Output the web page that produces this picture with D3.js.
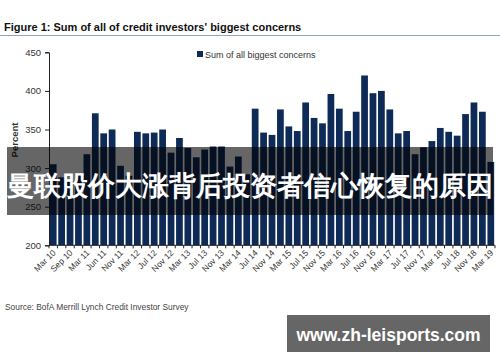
<!DOCTYPE html>
<html>
<head>
<meta charset="utf-8">
<script src="https://cdn.jsdelivr.net/npm/d3@7.9.0/dist/d3.min.js"></script>
<style>
  html, body { margin: 0; padding: 0; background: #fff; }
  svg { display: block; }
  text { font-family: "Liberation Sans", Arial, sans-serif; }
</style>
</head>
<body>
<svg id="chart" width="500" height="362"></svg>
<script>
// survey dates, one bar each (every other one labelled on the axis)
const categories = [
  "Mar 10", "Jun 10", "Sep 10", "Dec 10", "Mar 11", "Apr 11", "Jun 11", "Sep 11",
  "Nov 11", "Jan 12", "Mar 12", "May 12", "Jul 12", "Sep 12", "Nov 12", "Jan 13",
  "Mar 13", "May 13", "Jul 13", "Sep 13", "Nov 13", "Jan 14", "Mar 14", "May 14",
  "Jul 14", "Sep 14", "Nov 14", "Jan 15", "Mar 15", "May 15", "Jul 15", "Sep 15",
  "Nov 15", "Jan 16", "Mar 16", "May 16", "Jul 16", "Sep 16", "Nov 16", "Jan 17",
  "Mar 17", "May 17", "Jul 17", "Sep 17", "Nov 17", "Jan 18", "Mar 18", "May 18",
  "Jul 18", "Sep 18", "Nov 18", "Jan 19", "Mar 19"
];

const values = [
  305, 288, 284, 292, 318, 371, 345, 350, 303, 290,
  347, 345, 346, 350, 320, 339, 326, 314, 324, 328,
  328, 302, 315, 292, 377, 346, 343, 376, 354, 348,
  385, 365, 358, 396, 377, 348, 373, 420, 397, 400,
  376, 345, 348, 318, 327, 335, 352, 347, 342, 370,
  385, 373, 308
];

const tickLabels = categories.filter((d, i) => i % 2 === 0);
const yTicks = [200, 250, 300, 350, 400, 450];

const title = "Figure 1: Sum of all of credit investors' biggest concerns";
const seriesName = "Sum of all biggest concerns";
const source = "Source: BofA Merrill Lynch Credit Investor Survey";
const banner = "曼联股价大涨背后投资者信心恢复的原因";
const watermark = "www.zh-leisports.com";

const navy = "#0e2b57";
const svg = d3.select("#chart");

// title + rule
svg.append("text")
  .attr("x", 4).attr("y", 31)
  .attr("font-size", 11).attr("font-weight", "bold").attr("fill", "#111")
  .text(title);
svg.append("line")
  .attr("x1", 0).attr("x2", 500).attr("y1", 35.5).attr("y2", 35.5)
  .attr("stroke", "#8ea6c6").attr("stroke-width", 1);

// scales
const x = d3.scaleBand().domain(categories).range([49, 495]).paddingInner(0.2).paddingOuter(0.1);
const y = d3.scaleLinear().domain([200, 450]).range([245.3, 52.3]);

// bars
svg.append("g").selectAll("rect")
  .data(values)
  .join("rect")
  .attr("x", (d, i) => x(categories[i]))
  .attr("width", x.bandwidth())
  .attr("y", d => y(d))
  .attr("height", d => y(200) - y(d))
  .attr("fill", navy);

// y axis
const yAxis = svg.append("g")
  .attr("transform", "translate(49,0)")
  .call(d3.axisLeft(y).tickValues(yTicks).tickSize(4).tickPadding(4));
yAxis.select(".domain").attr("stroke", "#222");
yAxis.selectAll(".tick line").attr("stroke", "#222");
yAxis.selectAll("text").attr("font-size", 9.5).attr("fill", "#333")
  .attr("font-family", "'Liberation Sans', Arial, sans-serif");

svg.append("text")
  .attr("transform", "translate(18,140) rotate(-90)")
  .attr("text-anchor", "middle")
  .attr("font-size", 9.5).attr("font-weight", "bold").attr("fill", "#333")
  .text("Percent");

// x axis: line + ticks between categories
const base = y(200);
svg.append("line")
  .attr("x1", 49).attr("x2", 495).attr("y1", base).attr("y2", base)
  .attr("stroke", "#222");
const step = x.step();
const edges = categories.map(c => x(c) - step * x.paddingInner() / 2).concat([495]);
svg.append("g").selectAll("line")
  .data(edges)
  .join("line")
  .attr("x1", d => d).attr("x2", d => d)
  .attr("y1", base).attr("y2", base + 3)
  .attr("stroke", "#222");

svg.append("g").selectAll("text")
  .data(tickLabels)
  .join("text")
  .attr("transform", d => `translate(${x(d) + x.bandwidth() / 2 + 1},${base + 6}) rotate(-45)`)
  .attr("text-anchor", "end")
  .attr("dy", "0.35em")
  .attr("font-size", 8.5).attr("fill", "#333")
  .text(d => d);

// legend
svg.append("rect")
  .attr("x", 197).attr("y", 51).attr("width", 6).attr("height", 6)
  .attr("fill", navy);
svg.append("text")
  .attr("x", 205).attr("y", 57.5)
  .attr("font-size", 9).attr("fill", "#333")
  .text(seriesName);

// source
svg.append("text")
  .attr("x", 5).attr("y", 310)
  .attr("font-size", 8.4).attr("fill", "#444")
  .text(source);

// overlay banner
svg.append("rect")
  .attr("x", 7).attr("y", 147).attr("width", 486).attr("height", 68)
  .attr("fill", "#000").attr("fill-opacity", 0.6);
svg.append("text")
  .attr("x", 250).attr("y", 195)
  .attr("text-anchor", "middle")
  .attr("font-family", "'Noto Sans CJK SC', sans-serif")
  .attr("font-size", 27).attr("font-weight", "bold").attr("fill", "#fff")
  .text(banner);

// watermark
svg.append("rect")
  .attr("x", 287).attr("y", 315).attr("width", 203).attr("height", 37)
  .attr("fill", "#666");
svg.append("text")
  .attr("x", 388.5).attr("y", 340.5)
  .attr("text-anchor", "middle")
  .attr("font-family", "'Open Sans', 'DejaVu Sans', sans-serif")
  .attr("font-size", 17.5).attr("font-weight", 600).attr("fill", "#fff")
  .text(watermark);
</script>
</body>
</html>
